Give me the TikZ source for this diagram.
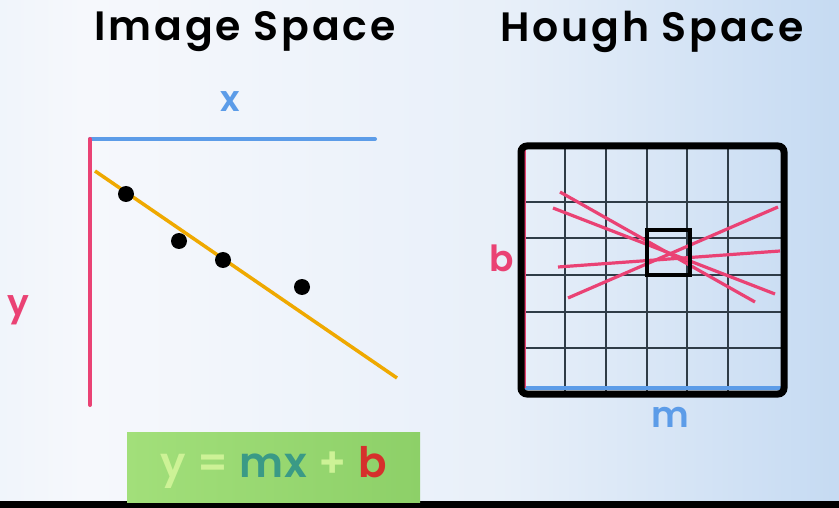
\documentclass[tikz,border=0pt]{standalone}
\usepackage{fontspec}
\setmainfont{Poppins}
\IfFontExistsTF{Poppins SemiBold}
  {\newfontfamily\roundfont{Poppins SemiBold}[LetterSpace=3]
   \newfontfamily\titlefont{Poppins SemiBold}[LetterSpace=7]}
  {\newfontfamily\roundbase{Poppins}[LetterSpace=1]
   \newcommand\roundfont{\roundbase\bfseries}
   \newcommand\titlefont{\roundbase\bfseries}}
\usetikzlibrary{positioning}
\definecolor{axisblue}{HTML}{5C9CE8}
\definecolor{axispink}{HTML}{EA4274}
\definecolor{fitorange}{HTML}{EFA900}
\definecolor{gridslate}{HTML}{2F3C47}
\definecolor{eqgreen}{HTML}{8DD068}
\definecolor{eqgreenl}{HTML}{A2DF7A}
\definecolor{eqlight}{HTML}{CDF296}
\definecolor{eqteal}{HTML}{3A9A86}
\definecolor{eqred}{HTML}{D6302C}
\definecolor{bgleft}{HTML}{D2E3F4}
\definecolor{bgmid}{HTML}{F6F8FC}
\definecolor{bgright}{HTML}{9AC0E9}
\pgfdeclarehorizontalshading{bgshade}{100bp}{color(0bp)=(bgleft); color(30bp)=(bgmid); color(55bp)=(bgmid!85!bgright); color(100bp)=(bgright)}
\begin{document}
\begin{tikzpicture}[x=1pt,y=-1pt,
    title/.style={font=\fontsize{41}{41}\selectfont\titlefont, text=black},
    axislabel/.style={font=\fontsize{36}{36}\selectfont\roundfont},
    dot/.style={circle, fill=black, inner sep=0pt, minimum size=16pt},
    fitline/.style={line width=3.5pt, draw=fitorange},
    houghline/.style={line width=3.2pt, draw=axispink},
    gridline/.style={line width=2.6pt, draw=gridslate}]
  % background
  \useasboundingbox (0,0) rectangle (839,508);
  \shade[shading=bgshade] (0,0) rectangle (839,508);
  \fill[black] (0,501) rectangle (839,508);

  % titles
  \node(imgtitle)[title] at (245,32) {Image Space};
  \node(houghtitle)[title] at (652,32) {Hough Space};

  % image space axes
  \coordinate (origin) at (90,139);
  \coordinate (xend) at (375,139);
  \coordinate (yend) at (90,405);
  \draw[line width=4pt, axisblue, line cap=round] (origin) -- (xend);
  \draw[line width=4pt, axispink, line cap=round] (origin) -- (yend);
  \node(xlab)[axislabel, text=axisblue] at (230,102) {x};
  \node(ylab)[axislabel, text=axispink] at (18,310) {y};

  % fitted line and points
  \coordinate (fitA) at (95,171);
  \coordinate (fitB) at (397,378);
  \draw[fitline] (fitA) -- (fitB);
  \node(p1)[dot] at (126,194) {};
  \node(p2)[dot] at (179,241) {};
  \node(p3)[dot] at (223,260) {};
  \node(p4)[dot] at (302,287) {};

  % equation
  \node(eq)[left color=eqgreenl, right color=eqgreen, minimum width=293pt, minimum height=70pt, anchor=north west,
    font=\fontsize{42}{42}\selectfont\roundfont] at (127,432)
    {\textcolor{eqlight}{y\ =\ }\textcolor{eqteal}{mx}\textcolor{eqlight}{\ +\ }\textcolor{eqred}{b}};

  % hough space grid
  \foreach \gx in {565,606,647,687,728}
    \draw[gridline] (\gx,149) -- (\gx,391);
  \foreach \gy in {202,238,275,312,348}
    \draw[gridline] (524,\gy) -- (781,\gy);
  \draw[line width=4pt, axisblue] (524,388) -- (781,388);
  \draw[line width=1.5pt, axispink] (525,149) -- (525,388);
  \foreach [count=\i] \sx/\sy/\ex/\ey in {560/192/755/302, 553/208/775/294, 558/267/780/251, 568/298/778/207} {
    \coordinate (hs\i) at (\sx,\sy);
    \coordinate (he\i) at (\ex,\ey);
    \draw[houghline] (hs\i) -- (he\i);
  }
  \draw[line width=4.5pt, black] (647,230) rectangle (690,275);
  \draw[line width=7pt, black, rounded corners=6pt] (521,146) rectangle (784,394);
  \node(blab)[axislabel, text=axispink] at (502,258) {b};
  \node(mlab)[axislabel, text=axisblue] at (670,417) {m};
\end{tikzpicture}
\end{document}
